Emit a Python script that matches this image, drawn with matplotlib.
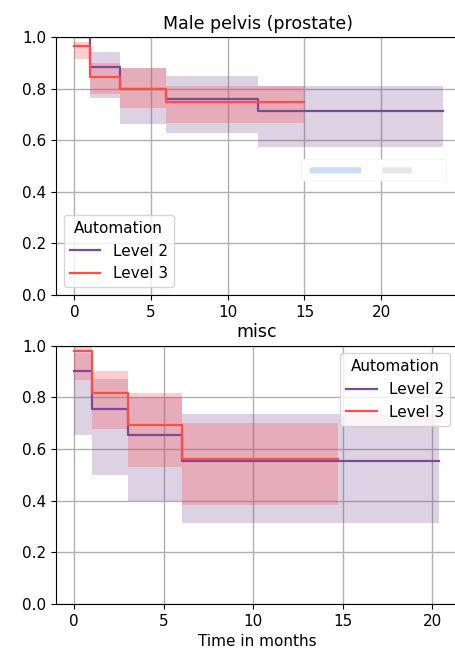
import matplotlib

matplotlib.use("Agg")
import matplotlib.pyplot as plt
from matplotlib.patches import FancyBboxPatch

# Kaplan-Meier style survival curves
PURPLE = "#7b4a94"
RED = "#ff4d4d"

# Male pelvis (prostate)
pelvis_l2_t = [0, 1, 3, 6, 12, 24]
pelvis_l2_s = [1.0, 0.885, 0.800, 0.760, 0.712]
pelvis_l2_lo = [1.0, 0.764, 0.664, 0.629, 0.574]
pelvis_l2_hi = [1.0, 0.940, 0.879, 0.850, 0.810]

pelvis_l3_t = [0, 1, 3, 6, 15]
pelvis_l3_s = [0.965, 0.846, 0.798, 0.749]
pelvis_l3_lo = [0.916, 0.780, 0.724, 0.668]
pelvis_l3_hi = [0.982, 0.900, 0.879, 0.810]

# misc
misc_l2_t = [0, 1, 3, 6, 20.4]
misc_l2_s = [0.903, 0.754, 0.653, 0.554]
misc_l2_lo = [0.655, 0.501, 0.398, 0.313]
misc_l2_hi = [0.970, 0.870, 0.800, 0.735]

misc_l3_t = [0, 1, 3, 6, 14.75]
misc_l3_s = [0.979, 0.818, 0.693, 0.562]
misc_l3_lo = [0.867, 0.677, 0.532, 0.385]
misc_l3_hi = [1.0, 0.902, 0.816, 0.702]

xticks = [0, 5, 10, 15, 20]
yticks = [0.0, 0.2, 0.4, 0.6, 0.8, 1.0]


def km(ax, t, s, lo, hi, color, label, band_alpha):
    s2 = list(s) + [s[-1]]
    lo2 = list(lo) + [lo[-1]]
    hi2 = list(hi) + [hi[-1]]
    ax.fill_between(t, lo2, hi2, step="post", color=color, alpha=band_alpha,
                    lw=0)
    ax.step(t, s2, where="post", color=color, lw=1.6, label=label)


def style(ax, xlim, title):
    ax.set_xlim(*xlim)
    ax.set_ylim(0, 1)
    ax.set_xticks(xticks)
    ax.set_yticks(yticks)
    ax.tick_params(labelsize=11)
    ax.grid(True, color="#b0b0b0", lw=1.0)
    ax.set_axisbelow(True)
    # the reference is cropped just before the right spine
    ax.spines["right"].set_visible(False)
    ax.set_title(title, fontsize=12.5, pad=6)


fig = plt.figure(figsize=(4.56, 6.55), dpi=100)

ax1 = fig.add_axes([0.1228, 0.5496, 0.888, 0.394])
km(ax1, pelvis_l2_t, pelvis_l2_s, pelvis_l2_lo, pelvis_l2_hi, PURPLE,
   "Level 2", 0.25)
km(ax1, pelvis_l3_t, pelvis_l3_s, pelvis_l3_lo, pelvis_l3_hi, RED,
   "Level 3", 0.28)
style(ax1, (-1.2, 25.2), "Male pelvis (prostate)")
ax1.legend(title="Automation", loc="lower left", fontsize=11,
           title_fontsize=11)
# blurred-out box in the reference
ax1.add_patch(FancyBboxPatch((0.61, 0.446), 0.35, 0.075,
                             boxstyle="round,pad=0.004",
                             transform=ax1.transAxes, fc="white",
                             ec="#f0f0f0", lw=0.5, zorder=5))
ax1.add_patch(FancyBboxPatch((0.63, 0.475), 0.12, 0.016,
                             boxstyle="round,pad=0.004",
                             transform=ax1.transAxes, fc="#b7d0f2",
                             ec="none", alpha=0.7, zorder=6))
ax1.add_patch(FancyBboxPatch((0.81, 0.475), 0.065, 0.016,
                             boxstyle="round,pad=0.004",
                             transform=ax1.transAxes, fc="#d8d8d8",
                             ec="none", alpha=0.6, zorder=6))

ax2 = fig.add_axes([0.1228, 0.0779, 0.881, 0.3943])
km(ax2, misc_l2_t, misc_l2_s, misc_l2_lo, misc_l2_hi, PURPLE,
   "Level 2", 0.25)
km(ax2, misc_l3_t, misc_l3_s, misc_l3_lo, misc_l3_hi, RED,
   "Level 3", 0.28)
style(ax2, (-1.02, 21.42), "misc")
ax2.set_xlabel("Time in months", fontsize=11)
ax2.legend(title="Automation", loc="upper right", fontsize=11,
           title_fontsize=11)

fig.savefig("out.png", dpi=100)
